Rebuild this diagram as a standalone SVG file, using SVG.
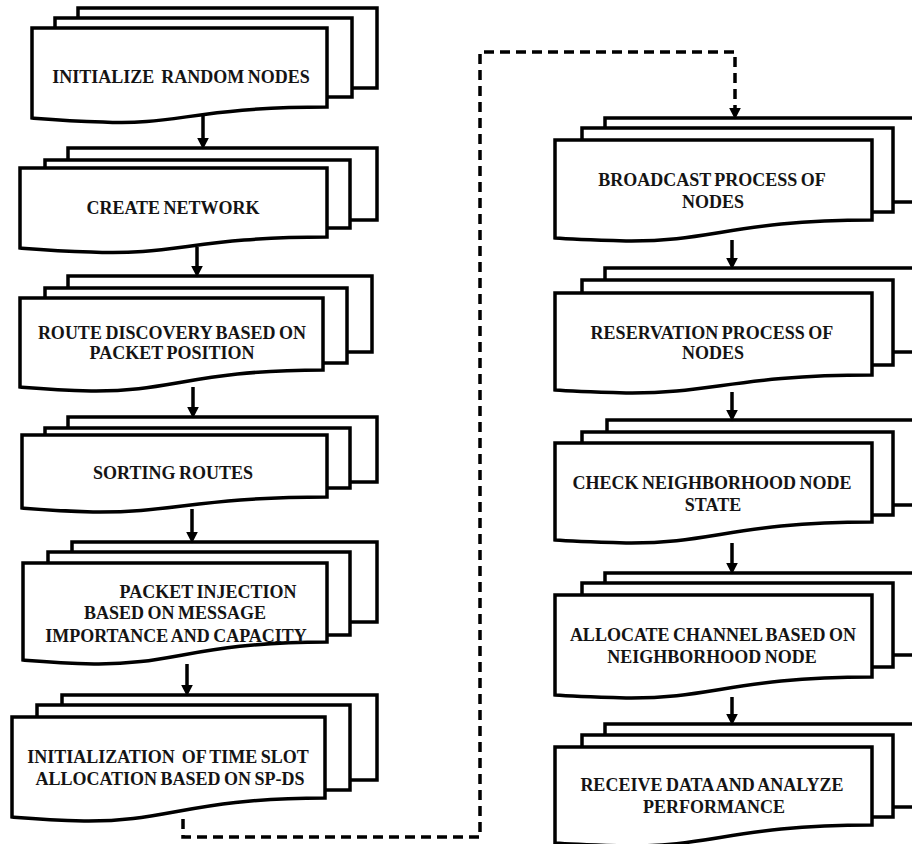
<svg xmlns="http://www.w3.org/2000/svg" width="912" height="844" viewBox="0 0 912 844">
<style>
.sh{fill:#fff;stroke:#000;stroke-width:3.5;stroke-linejoin:miter}
.t{font-family:'Liberation Serif','Times New Roman',serif;font-weight:700;font-size:18px;fill:#141414;text-anchor:middle;word-spacing:-1px}
.c{fill:none;stroke:#000;stroke-width:3.5}
.d{fill:none;stroke:#000;stroke-width:3.5;stroke-dasharray:10 6}
</style>
<defs>
<marker id="ah" markerUnits="userSpaceOnUse" markerWidth="12" markerHeight="12" viewBox="0 0 10 10" refX="2" refY="5" orient="auto">
<path d="M0,0 L10,5 L0,10 Z" fill="#000"/>
</marker>
</defs>
<rect width="912" height="844" fill="#fff"/>

<g id="n1">
<rect class="sh" x="78" y="8" width="299" height="80"/>
<rect class="sh" x="55" y="18" width="297" height="79"/>
<path class="sh" d="M32,28 H327 V107 C196,107 174,126 103,122 C70,121 45,119 32,118 Z"/>
<text class="t" x="181" y="83" xml:space="preserve">INITIALIZE  RANDOM NODES</text>
</g>

<g id="n2">
<rect class="sh" x="68" y="148" width="309" height="72"/>
<rect class="sh" x="45" y="160" width="305" height="68"/>
<path class="sh" d="M20,168 H327 V237 C196,237 174,256 91,252 C58,251 33,249 20,248 Z"/>
<text class="t" x="173" y="214">CREATE NETWORK</text>
</g>

<g id="n3">
<rect class="sh" x="68" y="276" width="304" height="76"/>
<rect class="sh" x="45" y="288" width="302" height="75"/>
<path class="sh" d="M20,298 H323 V370 C194,370 172,392 91,391 C58,390 33,388 20,387 Z"/>
<text class="t" x="172" y="339">ROUTE DISCOVERY BASED ON</text>
<text class="t" x="172" y="359">PACKET POSITION</text>
</g>

<g id="n4">
<rect class="sh" x="68" y="417" width="309" height="65"/>
<rect class="sh" x="45" y="428" width="305" height="60"/>
<path class="sh" d="M22,435 H327 V497 C196,497 174,513 93,512 C60,511 35,509 22,508 Z"/>
<text class="t" x="173" y="479">SORTING ROUTES</text>
</g>

<g id="n5">
<rect class="sh" x="72" y="542" width="305" height="80"/>
<rect class="sh" x="48" y="552" width="302" height="83"/>
<path class="sh" d="M23,563 H327 V642 C196,642 174,665 94,664 C61,663 36,661 23,660 Z"/>
<text class="t" x="208" y="598">PACKET INJECTION</text>
<text class="t" x="175" y="619">BASED ON MESSAGE</text>
<text class="t" x="176" y="642">IMPORTANCE AND CAPACITY</text>
</g>

<g id="n6">
<rect class="sh" x="62" y="695" width="315" height="85"/>
<rect class="sh" x="37" y="705" width="313" height="85"/>
<path class="sh" d="M12,717 H325 V798 C190,798 168,822 84,821 C50,820 25,818 12,817 Z"/>
<text class="t" x="168" y="763" xml:space="preserve">INITIALIZATION  OF TIME SLOT</text>
<text class="t" x="170" y="785">ALLOCATION BASED ON SP-DS</text>
</g>

<g id="n7">
<rect class="sh" x="605" y="118" width="325" height="84"/>
<rect class="sh" x="582" y="128" width="311" height="84"/>
<path class="sh" d="M555,140 H872 V220 C735,220 712,242 626,241 C592,240 567,239 555,238 Z"/>
<text class="t" x="712" y="186">BROADCAST PROCESS OF</text>
<text class="t" x="713" y="208">NODES</text>
</g>

<g id="n8">
<rect class="sh" x="605" y="268" width="325" height="84"/>
<rect class="sh" x="582" y="280" width="311" height="85"/>
<path class="sh" d="M555,293 H872 V375 C735,375 712,394 626,393 C592,392 567,391 555,390 Z"/>
<text class="t" x="712" y="339">RESERVATION PROCESS OF</text>
<text class="t" x="713" y="359">NODES</text>
</g>

<g id="n9">
<rect class="sh" x="607" y="420" width="323" height="85"/>
<rect class="sh" x="582" y="432" width="311" height="83"/>
<path class="sh" d="M555,443 H872 V522 C735,522 712,544 626,543 C592,542 567,541 555,540 Z"/>
<text class="t" x="712" y="489">CHECK NEIGHBORHOOD NODE</text>
<text class="t" x="713" y="511">STATE</text>
</g>

<g id="n10">
<rect class="sh" x="605" y="573" width="325" height="82"/>
<rect class="sh" x="582" y="583" width="311" height="84"/>
<path class="sh" d="M555,595 H872 V677 C735,677 712,699 626,698 C592,697 567,696 555,695 Z"/>
<text class="t" x="713" y="641">ALLOCATE CHANNEL BASED ON</text>
<text class="t" x="712" y="663">NEIGHBORHOOD NODE</text>
</g>

<g id="n11">
<rect class="sh" x="605" y="724" width="325" height="83"/>
<rect class="sh" x="582" y="735" width="311" height="82"/>
<path class="sh" d="M555,747 H872 V825 C735,825 712,847 626,846 C592,845 567,844 555,843 Z"/>
<text class="t" x="712" y="791">RECEIVE DATA AND ANALYZE</text>
<text class="t" x="714" y="813">PERFORMANCE</text>
</g>

<g id="connectors">
<path class="c" d="M203,114 V140" marker-end="url(#ah)"/>
<path class="c" d="M197,247 V268" marker-end="url(#ah)"/>
<path class="c" d="M193,387 V409" marker-end="url(#ah)"/>
<path class="c" d="M192,509 V534" marker-end="url(#ah)"/>
<path class="c" d="M187,664 V687" marker-end="url(#ah)"/>
<path class="d" d="M183,819 V837 H480 V52 H735 V110" marker-end="url(#ah)"/>
<path class="c" d="M732,240 V260" marker-end="url(#ah)"/>
<path class="c" d="M732,392 V412" marker-end="url(#ah)"/>
<path class="c" d="M732,543 V565" marker-end="url(#ah)"/>
<path class="c" d="M732,697 V716" marker-end="url(#ah)"/>
</g>
</svg>
